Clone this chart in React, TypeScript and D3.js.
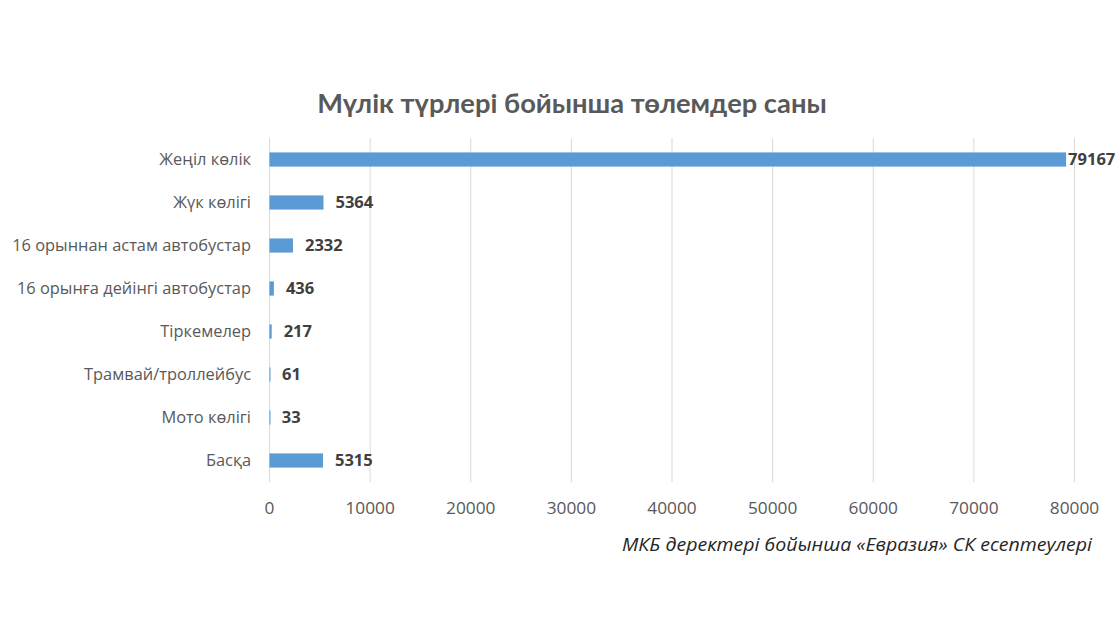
import React from "react";
import * as d3 from "d3";

const categories = [
  "Жеңіл көлік",
  "Жүк көлігі",
  "16 орыннан астам автобустар",
  "16 орынға дейінгі автобустар",
  "Тіркемелер",
  "Трамвай/троллейбус",
  "Мото көлігі",
  "Басқа",
];
const values = [79167, 5364, 2332, 436, 217, 61, 33, 5315];
const ticks = [0, 10000, 20000, 30000, 40000, 50000, 60000, 70000, 80000];
const title = "Мүлік түрлері бойынша төлемдер саны";
const source = "МКБ деректері бойынша «Евразия» СК есептеулері";

export default function App() {
  const W = 1120, H = 630;
  const left = 269.5, right = 1074.5, top = 138, bottom = 482;
  const x = d3.scaleLinear().domain([0, 80000]).range([left, right]);
  const y = d3.scaleBand().domain(categories).range([top, bottom]).paddingInner(0.67).paddingOuter(0.335);
  const lato = "Lato, sans-serif";
  const open = "'Open Sans', sans-serif";
  return (
    <svg width={W} height={H} style={{ position: "absolute", left: 0, top: 0, background: "#fff" }}>
      <rect width={W} height={H} fill="#fff" />
      <text x={572} y={113} textAnchor="middle" fontFamily={lato} fontWeight="bold" fontSize={27.3} fill="#595959">{title}</text>
      {ticks.map((t) => (
        <line key={t} x1={x(t)} x2={x(t)} y1={top} y2={bottom} stroke="#d9d9d9" strokeWidth={1} />
      ))}
      {ticks.map((t) => (
        <text key={"l" + t} transform={`translate(${x(t)},514) scale(1.08,1)`} textAnchor="middle" fontFamily={open} fontSize={16} fill="#595959">{t}</text>
      ))}
      {categories.map((c, i) => {
        const yy = y(c)!;
        const bw = y.bandwidth();
        return (
          <g key={c}>
            <rect x={x(0)} y={yy} width={Math.max(1, x(values[i]) - x(0))} height={bw} fill="#5b9bd5" />
            <text x={251} y={yy + bw / 2} dy="0.36em" textAnchor="end" fontFamily={open} fontSize={16.4} fill="#595959">{c}</text>
            <text x={x(values[i]) + (values[i] > 50000 ? 2 : 12)} y={yy + bw / 2} dy="0.36em" fontFamily={open} fontWeight="bold" fontSize={16.5} fill="#404040">{values[i]}</text>
          </g>
        );
      })}
      <text x={1092} y={551} textAnchor="end" fontFamily={open} fontStyle="italic" fontSize={17.5} fill="#262626" textLength={470} lengthAdjust="spacingAndGlyphs">{source}</text>
    </svg>
  );
}
